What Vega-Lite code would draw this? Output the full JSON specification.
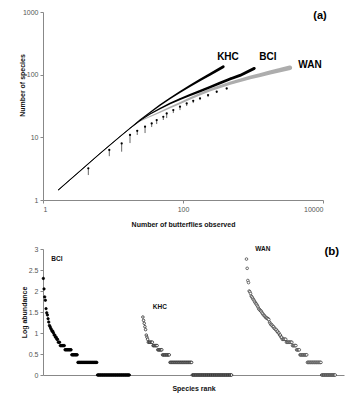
{
"$schema": "https://vega.github.io/schema/vega-lite/v6.json",
"padding": {"left": 18, "top": 8, "right": 2, "bottom": 2},
"spacing": 18,
"config": {"font": "Liberation Sans", "view": {"stroke": null},
 "axis": {"grid": false, "domainColor": "#888", "tickColor": "#888", "labelColor": "#555", "labelFont": "Liberation Sans", "labelFontSize": 7, "titleFont": "Liberation Sans", "titleFontSize": 7, "titleFontWeight": "bold", "titleColor": "#111", "tickSize": 3, "labelPadding": 2}},
"datasets": {
"curves": [
{"g":"KHC","n":1.654,"s":1.444},{"g":"KHC","n":2.43,"s":2.1},{"g":"KHC","n":3.38,"s":2.9},{"g":"KHC","n":4.69,"s":3.99},{"g":"KHC","n":6.52,"s":5.52},{"g":"KHC","n":9.06,"s":7.54},{"g":"KHC","n":12.6,"s":10.3},{"g":"KHC","n":17.5,"s":13.97},{"g":"KHC","n":24.3,"s":18.9},{"g":"KHC","n":33.8,"s":25.0},{"g":"KHC","n":46.9,"s":32.7},{"g":"KHC","n":65.2,"s":41.9},{"g":"KHC","n":90.6,"s":52.8},{"g":"KHC","n":126,"s":66.0},{"g":"KHC","n":175,"s":82.0},{"g":"KHC","n":243,"s":101},{"g":"KHC","n":376,"s":134},
{"g":"BCI","n":1.654,"s":1.444},{"g":"BCI","n":2.43,"s":2.1},{"g":"BCI","n":3.38,"s":2.9},{"g":"BCI","n":4.69,"s":3.99},{"g":"BCI","n":6.52,"s":5.52},{"g":"BCI","n":9.06,"s":7.54},{"g":"BCI","n":12.6,"s":10.3},{"g":"BCI","n":17.5,"s":13.97},{"g":"BCI","n":24.3,"s":18.5},{"g":"BCI","n":33.8,"s":23.5},{"g":"BCI","n":46.9,"s":28.8},{"g":"BCI","n":65.2,"s":34.6},{"g":"BCI","n":90.6,"s":40.8},{"g":"BCI","n":126,"s":47.3},{"g":"BCI","n":175,"s":54.7},{"g":"BCI","n":243,"s":63.4},{"g":"BCI","n":338,"s":73.5},{"g":"BCI","n":469,"s":85.1},{"g":"BCI","n":652,"s":97.4},{"g":"BCI","n":1044,"s":126},
{"g":"WAN","n":1.654,"s":1.444},{"g":"WAN","n":2.43,"s":2.1},{"g":"WAN","n":3.38,"s":2.9},{"g":"WAN","n":4.69,"s":3.99},{"g":"WAN","n":6.52,"s":5.52},{"g":"WAN","n":9.06,"s":7.54},{"g":"WAN","n":12.6,"s":10.2},{"g":"WAN","n":17.5,"s":13.8},{"g":"WAN","n":24.3,"s":18.2},{"g":"WAN","n":33.8,"s":21.5},{"g":"WAN","n":46.9,"s":25.3},{"g":"WAN","n":65.2,"s":29.9},{"g":"WAN","n":90.6,"s":35.2},{"g":"WAN","n":126,"s":41.6},{"g":"WAN","n":175,"s":49.0},{"g":"WAN","n":243,"s":56.8},{"g":"WAN","n":338,"s":64.6},{"g":"WAN","n":469,"s":72.9},{"g":"WAN","n":652,"s":81.1},{"g":"WAN","n":906,"s":89.9},{"g":"WAN","n":1259,"s":98.5},{"g":"WAN","n":1748,"s":108},{"g":"WAN","n":2427,"s":118},{"g":"WAN","n":3370,"s":129}
],
"obs": [
{"n":4.44,"s":3.2,"lo":2.5},{"n":8.85,"s":6.3,"lo":5.0},{"n":13.3,"s":8.0,"lo":5.9},{"n":17.5,"s":10.9,"lo":8.1},{"n":22.2,"s":12.7,"lo":10.9},{"n":28.7,"s":14.8,"lo":11.7},{"n":35.7,"s":16.7,"lo":14.6},{"n":42.1,"s":18.9,"lo":16.3},{"n":52.3,"s":21.3,"lo":18.9},{"n":58.5,"s":24.1,"lo":20.3},{"n":72.7,"s":27.2,"lo":24.4},{"n":90.6,"s":30.8,"lo":27.2},{"n":113,"s":34.8,"lo":31.6},{"n":140,"s":38.3,"lo":35.2},{"n":175,"s":41.9,"lo":39.3},{"n":228,"s":47.3,"lo":43.9},{"n":303,"s":53.4,"lo":50.9},{"n":421,"s":60.4,"lo":57.9}
],
"tlab": [
{"t":"KHC","n":439,"s":193},{"t":"BCI","n":1637,"s":193},{"t":"WAN","n":6517,"s":141},{"t":"(a)","n":9060,"s":860}
],
"blab": [
{"t":"BCI","r":20,"a":2.76},{"t":"KHC","r":172,"a":1.61},{"t":"WAN","r":324,"a":3.0},{"t":"(b)","r":426,"a":2.92}
],
"ranks": [
{"g":"BCI","r":0,"a":2.3},{"g":"BCI","r":1,"a":2.05},{"g":"BCI","r":2,"a":1.86},{"g":"BCI","r":3,"a":1.78},{"g":"BCI","r":4,"a":1.58},{"g":"BCI","r":5,"a":1.48},{"g":"BCI","r":6,"a":1.43},{"g":"BCI","r":7,"a":1.34},{"g":"BCI","r":8,"a":1.26},{"g":"BCI","r":9,"a":1.18},
{"g":"BCI","r":10,"a":1.15},{"g":"BCI","r":11,"a":1.11},{"g":"BCI","r":12,"a":1.08},{"g":"BCI","r":13,"a":1.04},{"g":"BCI","r":14,"a":1.04},{"g":"BCI","r":15,"a":1},{"g":"BCI","r":16,"a":0.95},{"g":"BCI","r":17,"a":0.95},{"g":"BCI","r":18,"a":0.9},{"g":"BCI","r":19,"a":0.9},
{"g":"BCI","r":20,"a":0.85},{"g":"BCI","r":21,"a":0.85},{"g":"BCI","r":22,"a":0.78},{"g":"BCI","r":23,"a":0.78},{"g":"BCI","r":24,"a":0.78},
{"g":"BCI","r":25,"a":0.7},{"g":"BCI","r":26,"a":0.7},{"g":"BCI","r":27,"a":0.7},{"g":"BCI","r":28,"a":0.7},{"g":"BCI","r":29,"a":0.7},{"g":"BCI","r":30,"a":0.7},{"g":"BCI","r":31,"a":0.7},
{"g":"BCI","r":32,"a":0.6},{"g":"BCI","r":33,"a":0.6},{"g":"BCI","r":34,"a":0.6},{"g":"BCI","r":35,"a":0.6},{"g":"BCI","r":36,"a":0.6},{"g":"BCI","r":37,"a":0.6},{"g":"BCI","r":38,"a":0.6},{"g":"BCI","r":39,"a":0.6},{"g":"BCI","r":40,"a":0.6},{"g":"BCI","r":41,"a":0.6},
{"g":"BCI","r":42,"a":0.48},{"g":"BCI","r":43,"a":0.48},{"g":"BCI","r":44,"a":0.48},{"g":"BCI","r":45,"a":0.48},{"g":"BCI","r":46,"a":0.48},{"g":"BCI","r":47,"a":0.48},{"g":"BCI","r":48,"a":0.48},{"g":"BCI","r":49,"a":0.48},{"g":"BCI","r":50,"a":0.48},
{"g":"BCI","r":51,"a":0.3},{"g":"BCI","r":52,"a":0.3},{"g":"BCI","r":53,"a":0.3},{"g":"BCI","r":54,"a":0.3},{"g":"BCI","r":55,"a":0.3},{"g":"BCI","r":56,"a":0.3},{"g":"BCI","r":57,"a":0.3},{"g":"BCI","r":58,"a":0.3},{"g":"BCI","r":59,"a":0.3},{"g":"BCI","r":60,"a":0.3},
{"g":"BCI","r":61,"a":0.3},{"g":"BCI","r":62,"a":0.3},{"g":"BCI","r":63,"a":0.3},{"g":"BCI","r":64,"a":0.3},{"g":"BCI","r":65,"a":0.3},{"g":"BCI","r":66,"a":0.3},{"g":"BCI","r":67,"a":0.3},{"g":"BCI","r":68,"a":0.3},{"g":"BCI","r":69,"a":0.3},{"g":"BCI","r":70,"a":0.3},
{"g":"BCI","r":71,"a":0.3},{"g":"BCI","r":72,"a":0.3},{"g":"BCI","r":73,"a":0.3},{"g":"BCI","r":74,"a":0.3},{"g":"BCI","r":75,"a":0.3},{"g":"BCI","r":76,"a":0.3},{"g":"BCI","r":77,"a":0.3},{"g":"BCI","r":78,"a":0.3},{"g":"BCI","r":79,"a":0.3},
{"g":"BCI","r":80,"a":0},{"g":"BCI","r":81,"a":0},{"g":"BCI","r":82,"a":0},{"g":"BCI","r":83,"a":0},{"g":"BCI","r":84,"a":0},{"g":"BCI","r":85,"a":0},{"g":"BCI","r":86,"a":0},{"g":"BCI","r":87,"a":0},{"g":"BCI","r":88,"a":0},{"g":"BCI","r":89,"a":0},
{"g":"BCI","r":90,"a":0},{"g":"BCI","r":91,"a":0},{"g":"BCI","r":92,"a":0},{"g":"BCI","r":93,"a":0},{"g":"BCI","r":94,"a":0},{"g":"BCI","r":95,"a":0},{"g":"BCI","r":96,"a":0},{"g":"BCI","r":97,"a":0},{"g":"BCI","r":98,"a":0},{"g":"BCI","r":99,"a":0},
{"g":"BCI","r":100,"a":0},{"g":"BCI","r":101,"a":0},{"g":"BCI","r":102,"a":0},{"g":"BCI","r":103,"a":0},{"g":"BCI","r":104,"a":0},{"g":"BCI","r":105,"a":0},{"g":"BCI","r":106,"a":0},{"g":"BCI","r":107,"a":0},{"g":"BCI","r":108,"a":0},{"g":"BCI","r":109,"a":0},
{"g":"BCI","r":110,"a":0},{"g":"BCI","r":111,"a":0},{"g":"BCI","r":112,"a":0},{"g":"BCI","r":113,"a":0},{"g":"BCI","r":114,"a":0},{"g":"BCI","r":115,"a":0},{"g":"BCI","r":116,"a":0},{"g":"BCI","r":117,"a":0},{"g":"BCI","r":118,"a":0},{"g":"BCI","r":119,"a":0},
{"g":"BCI","r":120,"a":0},{"g":"BCI","r":121,"a":0},{"g":"BCI","r":122,"a":0},{"g":"BCI","r":123,"a":0},{"g":"BCI","r":124,"a":0},{"g":"BCI","r":125,"a":0},{"g":"BCI","r":126,"a":0},{"g":"BCI","r":127,"a":0},
{"g":"KHC","r":147,"a":1.38},{"g":"KHC","r":148,"a":1.3},{"g":"KHC","r":149,"a":1.23},{"g":"KHC","r":150,"a":1.15},{"g":"KHC","r":151,"a":1.08},{"g":"KHC","r":152,"a":0.95},{"g":"KHC","r":153,"a":0.9},{"g":"KHC","r":154,"a":0.85},
{"g":"KHC","r":155,"a":0.78},{"g":"KHC","r":156,"a":0.78},{"g":"KHC","r":157,"a":0.78},{"g":"KHC","r":158,"a":0.78},{"g":"KHC","r":159,"a":0.78},{"g":"KHC","r":160,"a":0.78},{"g":"KHC","r":161,"a":0.78},
{"g":"KHC","r":162,"a":0.7},{"g":"KHC","r":163,"a":0.7},{"g":"KHC","r":164,"a":0.7},{"g":"KHC","r":165,"a":0.7},{"g":"KHC","r":166,"a":0.7},{"g":"KHC","r":167,"a":0.7},{"g":"KHC","r":168,"a":0.7},
{"g":"KHC","r":169,"a":0.6},{"g":"KHC","r":170,"a":0.6},{"g":"KHC","r":171,"a":0.6},{"g":"KHC","r":172,"a":0.6},{"g":"KHC","r":173,"a":0.6},{"g":"KHC","r":174,"a":0.6},{"g":"KHC","r":175,"a":0.6},
{"g":"KHC","r":176,"a":0.48},{"g":"KHC","r":177,"a":0.48},{"g":"KHC","r":178,"a":0.48},{"g":"KHC","r":179,"a":0.48},{"g":"KHC","r":180,"a":0.48},{"g":"KHC","r":181,"a":0.48},{"g":"KHC","r":182,"a":0.48},{"g":"KHC","r":183,"a":0.48},{"g":"KHC","r":184,"a":0.48},{"g":"KHC","r":185,"a":0.48},{"g":"KHC","r":186,"a":0.48},
{"g":"KHC","r":187,"a":0.3},{"g":"KHC","r":188,"a":0.3},{"g":"KHC","r":189,"a":0.3},{"g":"KHC","r":190,"a":0.3},{"g":"KHC","r":191,"a":0.3},{"g":"KHC","r":192,"a":0.3},{"g":"KHC","r":193,"a":0.3},{"g":"KHC","r":194,"a":0.3},{"g":"KHC","r":195,"a":0.3},{"g":"KHC","r":196,"a":0.3},
{"g":"KHC","r":197,"a":0.3},{"g":"KHC","r":198,"a":0.3},{"g":"KHC","r":199,"a":0.3},{"g":"KHC","r":200,"a":0.3},{"g":"KHC","r":201,"a":0.3},{"g":"KHC","r":202,"a":0.3},{"g":"KHC","r":203,"a":0.3},{"g":"KHC","r":204,"a":0.3},{"g":"KHC","r":205,"a":0.3},{"g":"KHC","r":206,"a":0.3},
{"g":"KHC","r":207,"a":0.3},{"g":"KHC","r":208,"a":0.3},{"g":"KHC","r":209,"a":0.3},{"g":"KHC","r":210,"a":0.3},{"g":"KHC","r":211,"a":0.3},{"g":"KHC","r":212,"a":0.3},{"g":"KHC","r":213,"a":0.3},{"g":"KHC","r":214,"a":0.3},{"g":"KHC","r":215,"a":0.3},{"g":"KHC","r":216,"a":0.3},
{"g":"KHC","r":217,"a":0.3},{"g":"KHC","r":218,"a":0.3},{"g":"KHC","r":219,"a":0.3},
{"g":"KHC","r":220,"a":0},{"g":"KHC","r":221,"a":0},{"g":"KHC","r":222,"a":0},{"g":"KHC","r":223,"a":0},{"g":"KHC","r":224,"a":0},{"g":"KHC","r":225,"a":0},{"g":"KHC","r":226,"a":0},{"g":"KHC","r":227,"a":0},{"g":"KHC","r":228,"a":0},{"g":"KHC","r":229,"a":0},
{"g":"KHC","r":230,"a":0},{"g":"KHC","r":231,"a":0},{"g":"KHC","r":232,"a":0},{"g":"KHC","r":233,"a":0},{"g":"KHC","r":234,"a":0},{"g":"KHC","r":235,"a":0},{"g":"KHC","r":236,"a":0},{"g":"KHC","r":237,"a":0},{"g":"KHC","r":238,"a":0},{"g":"KHC","r":239,"a":0},
{"g":"KHC","r":240,"a":0},{"g":"KHC","r":241,"a":0},{"g":"KHC","r":242,"a":0},{"g":"KHC","r":243,"a":0},{"g":"KHC","r":244,"a":0},{"g":"KHC","r":245,"a":0},{"g":"KHC","r":246,"a":0},{"g":"KHC","r":247,"a":0},{"g":"KHC","r":248,"a":0},{"g":"KHC","r":249,"a":0},
{"g":"KHC","r":250,"a":0},{"g":"KHC","r":251,"a":0},{"g":"KHC","r":252,"a":0},{"g":"KHC","r":253,"a":0},{"g":"KHC","r":254,"a":0},{"g":"KHC","r":255,"a":0},{"g":"KHC","r":256,"a":0},{"g":"KHC","r":257,"a":0},{"g":"KHC","r":258,"a":0},{"g":"KHC","r":259,"a":0},
{"g":"KHC","r":260,"a":0},{"g":"KHC","r":261,"a":0},{"g":"KHC","r":262,"a":0},{"g":"KHC","r":263,"a":0},{"g":"KHC","r":264,"a":0},{"g":"KHC","r":265,"a":0},{"g":"KHC","r":266,"a":0},{"g":"KHC","r":267,"a":0},{"g":"KHC","r":268,"a":0},{"g":"KHC","r":269,"a":0},
{"g":"KHC","r":270,"a":0},{"g":"KHC","r":271,"a":0},{"g":"KHC","r":272,"a":0},{"g":"KHC","r":273,"a":0},{"g":"KHC","r":274,"a":0},{"g":"KHC","r":275,"a":0},{"g":"KHC","r":276,"a":0},{"g":"KHC","r":277,"a":0},{"g":"KHC","r":278,"a":0},
{"g":"WAN","r":300,"a":2.76},{"g":"WAN","r":301,"a":2.54},{"g":"WAN","r":302,"a":2.25},{"g":"WAN","r":303,"a":2.2},{"g":"WAN","r":304,"a":2.0},{"g":"WAN","r":305,"a":1.98},{"g":"WAN","r":306,"a":1.94},{"g":"WAN","r":307,"a":1.88},{"g":"WAN","r":308,"a":1.86},{"g":"WAN","r":309,"a":1.83},
{"g":"WAN","r":310,"a":1.8},{"g":"WAN","r":311,"a":1.78},{"g":"WAN","r":312,"a":1.75},{"g":"WAN","r":313,"a":1.72},{"g":"WAN","r":314,"a":1.7},{"g":"WAN","r":315,"a":1.68},{"g":"WAN","r":316,"a":1.65},{"g":"WAN","r":317,"a":1.62},{"g":"WAN","r":318,"a":1.58},{"g":"WAN","r":319,"a":1.56},
{"g":"WAN","r":320,"a":1.54},{"g":"WAN","r":321,"a":1.53},{"g":"WAN","r":322,"a":1.51},{"g":"WAN","r":323,"a":1.48},{"g":"WAN","r":324,"a":1.46},{"g":"WAN","r":325,"a":1.43},{"g":"WAN","r":326,"a":1.42},{"g":"WAN","r":327,"a":1.4},{"g":"WAN","r":328,"a":1.38},{"g":"WAN","r":329,"a":1.36},
{"g":"WAN","r":330,"a":1.36},{"g":"WAN","r":331,"a":1.34},{"g":"WAN","r":332,"a":1.34},{"g":"WAN","r":333,"a":1.32},{"g":"WAN","r":334,"a":1.26},{"g":"WAN","r":335,"a":1.23},{"g":"WAN","r":336,"a":1.2},{"g":"WAN","r":337,"a":1.2},{"g":"WAN","r":338,"a":1.18},{"g":"WAN","r":339,"a":1.15},
{"g":"WAN","r":340,"a":1.15},{"g":"WAN","r":341,"a":1.11},{"g":"WAN","r":342,"a":1.11},{"g":"WAN","r":343,"a":1.08},{"g":"WAN","r":344,"a":1.08},{"g":"WAN","r":345,"a":1.04},{"g":"WAN","r":346,"a":1.04},{"g":"WAN","r":347,"a":1},{"g":"WAN","r":348,"a":1},{"g":"WAN","r":349,"a":0.95},
{"g":"WAN","r":350,"a":0.95},{"g":"WAN","r":351,"a":0.9},{"g":"WAN","r":352,"a":0.9},
{"g":"WAN","r":353,"a":0.85},{"g":"WAN","r":354,"a":0.85},{"g":"WAN","r":355,"a":0.85},{"g":"WAN","r":356,"a":0.85},{"g":"WAN","r":357,"a":0.85},{"g":"WAN","r":358,"a":0.85},
{"g":"WAN","r":359,"a":0.78},{"g":"WAN","r":360,"a":0.78},{"g":"WAN","r":361,"a":0.78},{"g":"WAN","r":362,"a":0.78},{"g":"WAN","r":363,"a":0.78},{"g":"WAN","r":364,"a":0.78},{"g":"WAN","r":365,"a":0.78},{"g":"WAN","r":366,"a":0.78},{"g":"WAN","r":367,"a":0.78},
{"g":"WAN","r":368,"a":0.7},{"g":"WAN","r":369,"a":0.7},{"g":"WAN","r":370,"a":0.7},{"g":"WAN","r":371,"a":0.7},{"g":"WAN","r":372,"a":0.7},{"g":"WAN","r":373,"a":0.7},
{"g":"WAN","r":374,"a":0.6},{"g":"WAN","r":375,"a":0.6},{"g":"WAN","r":376,"a":0.6},{"g":"WAN","r":377,"a":0.6},{"g":"WAN","r":378,"a":0.6},
{"g":"WAN","r":379,"a":0.48},{"g":"WAN","r":380,"a":0.48},{"g":"WAN","r":381,"a":0.48},{"g":"WAN","r":382,"a":0.48},{"g":"WAN","r":383,"a":0.48},{"g":"WAN","r":384,"a":0.48},{"g":"WAN","r":385,"a":0.48},{"g":"WAN","r":386,"a":0.48},{"g":"WAN","r":387,"a":0.48},{"g":"WAN","r":388,"a":0.48},{"g":"WAN","r":389,"a":0.48},
{"g":"WAN","r":390,"a":0.3},{"g":"WAN","r":391,"a":0.3},{"g":"WAN","r":392,"a":0.3},{"g":"WAN","r":393,"a":0.3},{"g":"WAN","r":394,"a":0.3},{"g":"WAN","r":395,"a":0.3},{"g":"WAN","r":396,"a":0.3},{"g":"WAN","r":397,"a":0.3},{"g":"WAN","r":398,"a":0.3},{"g":"WAN","r":399,"a":0.3},
{"g":"WAN","r":400,"a":0.3},{"g":"WAN","r":401,"a":0.3},{"g":"WAN","r":402,"a":0.3},{"g":"WAN","r":403,"a":0.3},{"g":"WAN","r":404,"a":0.3},{"g":"WAN","r":405,"a":0.3},{"g":"WAN","r":406,"a":0.3},{"g":"WAN","r":407,"a":0.3},{"g":"WAN","r":408,"a":0.3},{"g":"WAN","r":409,"a":0.3},{"g":"WAN","r":410,"a":0.3},
{"g":"WAN","r":411,"a":0},{"g":"WAN","r":412,"a":0},{"g":"WAN","r":413,"a":0},{"g":"WAN","r":414,"a":0},{"g":"WAN","r":415,"a":0},{"g":"WAN","r":416,"a":0},{"g":"WAN","r":417,"a":0},{"g":"WAN","r":418,"a":0},{"g":"WAN","r":419,"a":0},{"g":"WAN","r":420,"a":0},
{"g":"WAN","r":421,"a":0},{"g":"WAN","r":422,"a":0},{"g":"WAN","r":423,"a":0},{"g":"WAN","r":424,"a":0},{"g":"WAN","r":425,"a":0},{"g":"WAN","r":426,"a":0},{"g":"WAN","r":427,"a":0},{"g":"WAN","r":428,"a":0},{"g":"WAN","r":429,"a":0},{"g":"WAN","r":430,"a":0},{"g":"WAN","r":431,"a":0}
]
},
"vconcat": [
{
 "width": 280, "height": 188,
 "resolve": {"scale": {"size": "independent"}},
 "encoding": {
  "x": {"field": "n", "type": "quantitative", "scale": {"type": "log", "domain": [1, 10000]}, "axis": {"values": [1, 100, 10000], "format": "d", "title": "Number of butterflies observed", "titlePadding": 8}},
  "y": {"field": "s", "type": "quantitative", "scale": {"type": "log", "domain": [1, 1000]}, "axis": {"values": [1, 10, 100, 1000], "format": "d", "title": "Number of species", "titleY": 73, "minExtent": 16, "maxExtent": 16, "titlePadding": 2}}
 },
 "layer": [
  {"data": {"name": "curves"}, "transform": [{"filter": "datum.g == 'WAN'"}],
   "mark": {"type": "trail", "color": "#adadad"},
   "encoding": {
    "size": {"field": "n", "type": "quantitative", "scale": {"type": "log", "domain": [20, 3000], "range": [0.7, 4.5], "clamp": true}, "legend": null}
   }},
  {"data": {"name": "obs"}, "mark": {"type": "rule", "color": "#000", "strokeWidth": 0.6},
   "encoding": {"y2": {"field": "lo"}}},
  {"data": {"name": "obs"}, "mark": {"type": "point", "filled": true, "size": 5, "color": "#000", "opacity": 1}},
  {"data": {"name": "curves"}, "transform": [{"filter": "datum.g != 'WAN'"}],
   "mark": {"type": "trail", "color": "#000"},
   "encoding": {
    "detail": {"field": "g"},
    "size": {"field": "n", "type": "quantitative", "scale": {"type": "log", "domain": [15, 377], "range": [0.7, 2.8], "clamp": true}, "legend": null}
   }},
  {"data": {"name": "tlab"}, "transform": [{"filter": "datum.t != '(a)'"}],
   "mark": {"type": "text", "fontSize": 10, "fontWeight": "bold", "align": "center", "baseline": "middle", "color": "#000"},
   "encoding": {"text": {"field": "t"}}},
  {"data": {"name": "tlab"}, "transform": [{"filter": "datum.t == '(a)'"}],
   "mark": {"type": "text", "fontSize": 11, "fontWeight": "bold", "align": "center", "baseline": "middle", "color": "#000"},
   "encoding": {"text": {"field": "t"}}}
 ]
},
{
 "width": 301, "height": 126,
 "encoding": {
  "x": {"field": "r", "type": "quantitative", "scale": {"domain": [-0.5, 444], "nice": false, "zero": false}, "axis": {"title": "Species rank", "labels": false, "ticks": false, "titlePadding": 9}},
  "y": {"field": "a", "type": "quantitative", "scale": {"domain": [0, 3], "nice": false}, "axis": {"values": [0, 0.5, 1, 1.5, 2, 2.5, 3], "format": "~g", "title": "Log abundance", "minExtent": 14, "maxExtent": 14, "titlePadding": 2}}
 },
 "layer": [
  {"data": {"name": "ranks"},
   "mark": {"type": "point", "filled": true, "strokeWidth": 0.7, "opacity": 1},
   "encoding": {
    "fill": {"field": "g", "type": "nominal", "scale": {"domain": ["BCI", "KHC", "WAN"], "range": ["#000000", "#ffffff", "#ffffff"]}, "legend": null},
    "stroke": {"field": "g", "type": "nominal", "scale": {"domain": ["BCI", "KHC", "WAN"], "range": ["#000000", "#111111", "#333333"]}, "legend": null},
    "size": {"field": "g", "type": "nominal", "scale": {"domain": ["BCI", "KHC", "WAN"], "range": [6, 7, 4.5]}, "legend": null}
   }},
  {"data": {"name": "blab"}, "transform": [{"filter": "datum.t != '(b)'"}],
   "mark": {"type": "text", "fontSize": 6.5, "fontWeight": "bold", "align": "center", "baseline": "middle", "color": "#111"},
   "encoding": {"text": {"field": "t"}}},
  {"data": {"name": "blab"}, "transform": [{"filter": "datum.t == '(b)'"}],
   "mark": {"type": "text", "fontSize": 11.5, "fontWeight": "bold", "align": "center", "baseline": "middle", "color": "#000"},
   "encoding": {"text": {"field": "t"}}}
 ]
}
]
}
